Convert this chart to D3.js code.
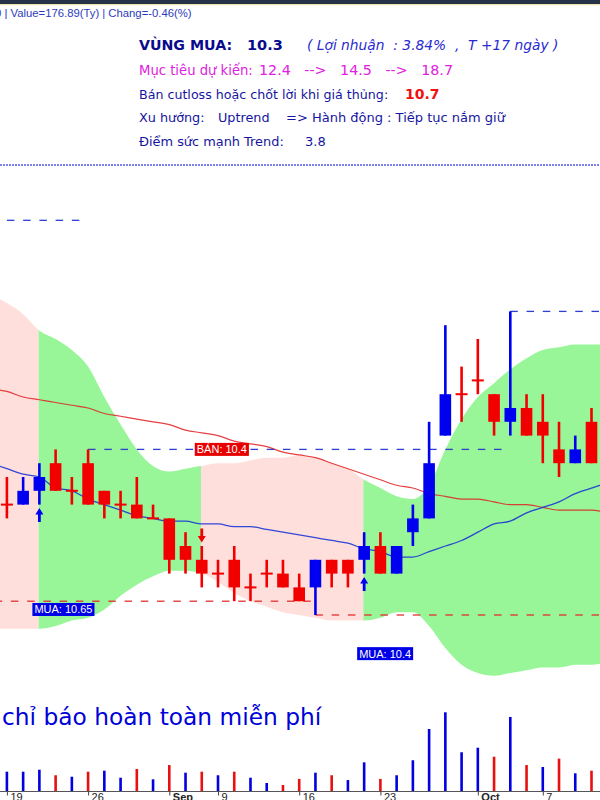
<!DOCTYPE html>
<html><head><meta charset="utf-8">
<script src="https://cdn.jsdelivr.net/npm/d3@7/dist/d3.min.js"></script>
<style>body{margin:0;background:#fff;}svg{display:block;}text{white-space:pre;}</style>
</head><body>
<svg id="c" width="600" height="800"></svg>
<script>
// ---------- DATA ----------
const dates = ["08-19","08-20","08-21","08-22","08-23","08-26","08-27","08-28","08-29","08-30",
  "09-04","09-05","09-06","09-09","09-10","09-11","09-12","09-13","09-16","09-17","09-18","09-19","09-20",
  "09-23","09-24","09-25","09-26","09-27","09-30","10-01","10-02","10-03","10-04","10-07","10-08","10-09","10-10"];
const openP  = [10.55,10.55,10.6,10.7,10.6,10.7,10.6,10.55,10.55,10.5,10.5,10.4,10.35,10.3,10.35,10.25,10.3,10.3,10.25,10.25,10.35,10.35,10.35,10.4,10.3,10.45,10.5,10.8,10.95,11.0,10.95,10.85,10.9,10.85,10.75,10.7,10.85];
const highP  = [10.65,10.65,10.7,10.75,10.65,10.75,10.6,10.6,10.65,10.55,10.5,10.45,10.4,10.35,10.4,10.3,10.35,10.35,10.3,10.35,10.35,10.35,10.45,10.45,10.4,10.55,10.85,11.2,11.05,11.15,10.95,11.25,10.95,10.95,10.85,10.8,10.9];
const lowP   = [10.5,10.55,10.55,10.6,10.55,10.55,10.5,10.5,10.5,10.5,10.3,10.3,10.25,10.25,10.2,10.2,10.25,10.25,10.2,10.15,10.25,10.25,10.3,10.3,10.3,10.4,10.5,10.8,10.85,10.95,10.8,10.8,10.8,10.7,10.65,10.7,10.7];
const closeP = [10.55,10.6,10.65,10.6,10.6,10.55,10.55,10.55,10.5,10.5,10.35,10.35,10.3,10.3,10.25,10.25,10.3,10.25,10.2,10.35,10.3,10.3,10.4,10.3,10.4,10.5,10.7,10.95,10.95,11.0,10.85,10.9,10.8,10.8,10.7,10.75,10.7];
// volume, million shares
const volume = [15.7,15.7,17.3,12.8,11.6,15.7,16.5,10.8,17.9,9.5,21.1,14.9,15.7,12.8,15.7,10.8,6.5,4.9,9.8,14.9,12.8,8.9,23.3,9.8,12.8,25.0,50.4,64.0,31.5,35.2,27.9,60.2,21.1,19.5,26.3,14.4,16.5];
// bands & averages: one bar before the first visible bar, then the 37 bars, then one bar after
const bandUpper = [11.31,11.28,11.24,11.18,11.15,11.11,11.05,10.94,10.84,10.75,10.69,10.67,10.68,10.69,10.70,10.70,10.71,10.72,10.72,10.73,10.72,10.70,10.68,10.64,10.61,10.58,10.57,10.62,10.75,10.86,10.94,10.99,11.04,11.08,11.11,11.12,11.13,11.13,11.13];
const bandLower = [10.10,10.10,10.10,10.10,10.11,10.13,10.14,10.17,10.22,10.26,10.29,10.31,10.31,10.30,10.27,10.23,10.20,10.18,10.16,10.15,10.14,10.13,10.13,10.13,10.14,10.16,10.16,10.11,10.03,9.97,9.94,9.93,9.94,9.95,9.96,9.96,9.97,9.97,9.98];
const maFast = [10.70,10.68,10.66,10.65,10.61,10.60,10.57,10.55,10.53,10.51,10.50,10.49,10.49,10.48,10.48,10.47,10.47,10.46,10.45,10.44,10.43,10.42,10.41,10.39,10.38,10.36,10.36,10.38,10.40,10.42,10.45,10.48,10.49,10.52,10.54,10.56,10.59,10.61,10.63];
const maSlow = [10.97,10.96,10.94,10.93,10.92,10.91,10.90,10.88,10.87,10.86,10.85,10.84,10.82,10.81,10.80,10.78,10.77,10.76,10.74,10.73,10.72,10.70,10.68,10.66,10.64,10.62,10.61,10.59,10.58,10.57,10.57,10.56,10.55,10.55,10.54,10.53,10.53,10.53,10.52];
const signals = [
  {i:2,  type:"buy",  label:"MUA: 10.65", at:10.17},
  {i:12, type:"sell", label:"BÁN: 10.4",  at:10.75},
  {i:22, type:"buy",  label:"MUA: 10.4",  at:10.01}
];
const levels = [
  {p:11.58, a:0,  b:4,  kind:"res"},
  {p:10.75, a:5,  b:30, kind:"res"},
  {p:11.25, a:31, b:36, kind:"res"},
  {p:10.2,  a:-1, b:18, kind:"sup"},
  {p:10.15, a:19, b:36, kind:"sup"}
];
const targets = ["12.4","14.5","18.7"];
const tickIdx = [0,5,10,13,18,23,29,33];
const tickLabels = ["19","26","Sep","9","16","23","Oct","7"];

// ---------- CHART ----------
const svg = d3.select("#c");
const RED = "#f20000", BLUE = "#0000f0";
const GREEN_FILL = "#98f598", PINK_FILL = "#ffdfdb";
const x = d3.scaleLinear().domain([0, 36]).range([6.9, 591.5]);
const y = d3.scaleLinear().domain([10, 11.5]).range([656.4, 242.4]);
const yV = d3.scaleLinear().domain([0, 100]).range([791, 668]);

// header strip
svg.append("rect").attr("x",0).attr("y",0).attr("width",600).attr("height",4).attr("fill","#263248");
svg.append("line").attr("x1",0).attr("x2",600).attr("y1",4.6).attr("y2",4.6).attr("stroke","#efe4b0").attr("stroke-width",1.2);
svg.append("text").attr("x",-5).attr("y",17).attr("font-family","Liberation Sans, Arial").attr("font-size",11.3)
  .attr("fill","#2b3bbd").text("0 | Value=176.89(Ty) | Chang=-0.46(%)");

// info block
const F = "DejaVu Sans, Verdana, sans-serif";
function t(xp, yp, str, opts){
  const e = svg.append("text").attr("x",xp).attr("y",yp).attr("font-family",F).attr("font-size",opts.size||12.8)
    .attr("fill",opts.fill).text(str);
  if(opts.bold) e.attr("font-weight","bold");
  if(opts.italic) e.attr("font-style","italic");
  return e;
}
t(139,50,"VÙNG MUA:",{fill:"#0a0a8c",bold:true,size:14.2});
t(247,50,"10.3",{fill:"#0a0a8c",bold:true,size:14.5});
t(307,50,"( Lợi nhuận  : 3.84%  ,  T +17 ngày )",{fill:"#2a2ad0",italic:true,size:13.8});
t(139,75,"Mục tiêu dự kiến:",{fill:"#e020e0",size:13.2});
{
  const toks = [];
  targets.forEach((v,k)=>{ if(k) toks.push("-->"); toks.push(v); });
  const els = toks.map(s=>t(0,75,s,{fill:"#e020e0",size:14.3}));
  const ws = els.map(e=>e.node().getComputedTextLength());
  const x0 = 259, x1 = 453;
  const gap = (x1 - x0 - d3.sum(ws)) / (toks.length - 1);
  let cx = x0;
  els.forEach((e,k)=>{ e.attr("x",cx); cx += ws[k] + gap; });
}
t(139,99,"Bán cutloss hoặc chốt lời khi giá thủng:",{fill:"#1515a0",size:12.65});
t(405,99,"10.7",{fill:"#f01010",bold:true,size:14});
t(139,122,"Xu hướng:",{fill:"#1515a0"});
t(218,122,"Uptrend",{fill:"#1515a0"});
t(286,122,"=> Hành động : Tiếp tục nắm giữ",{fill:"#1515a0",size:13});
t(139,146,"Điểm sức mạnh Trend:",{fill:"#1515a0",size:12.9});
t(305,146,"3.8",{fill:"#1515a0",size:13});

// separator
svg.append("line").attr("x1",0).attr("x2",600).attr("y1",165).attr("y2",165)
  .attr("stroke","#5a5ae6").attr("stroke-width",1.4).attr("stroke-dasharray","2,1");

// band fill, split by trend state
const idxAll = d3.range(-1, 38);
const area = d3.area().x(i=>x(i)).y0(i=>y(bandLower[i+1])).y1(i=>y(bandUpper[i+1])).curve(d3.curveMonotoneX);
const segs = []; let start = -1, state = "sell";
signals.forEach(s=>{ segs.push({a:start,b:s.i,state}); start = s.i; state = s.type; });
segs.push({a:start,b:37,state});
const defs = svg.append("defs");
segs.forEach((s,k)=>{
  const x0 = s.a < 0 ? -20 : x(s.a) - 0.8;
  const x1 = s.b >= 37 ? 620 : x(s.b) - 0.8;
  defs.append("clipPath").attr("id","seg"+k).append("rect").attr("x",x0).attr("y",0).attr("width",x1-x0).attr("height",800);
  svg.append("path").datum(idxAll).attr("d",area).attr("fill", s.state==="buy"?GREEN_FILL:PINK_FILL)
    .attr("clip-path","url(#seg"+k+")");
});

// moving averages
const line = arr => d3.line().x(i=>x(i)).y(i=>y(arr[i+1])).curve(d3.curveMonotoneX)(idxAll);
svg.append("path").attr("d",line(maSlow)).attr("fill","none").attr("stroke","#e02020").attr("stroke-width",1.2).attr("opacity",0.85);
svg.append("path").attr("d",line(maFast)).attr("fill","none").attr("stroke","#1a36d6").attr("stroke-width",1.3).attr("opacity",0.9);

// level dashes
levels.forEach(L=>{
  const off = L.kind==="sup" && L.a < 0 ? 4 : 0;
  const col = L.kind==="res" ? "#2f3fd0" : "#e03030";
  svg.append("g").selectAll("line").data(d3.range(L.a, L.b+1)).join("line")
    .attr("x1",i=>x(i)+off).attr("x2",i=>x(i)+off+7.5)
    .attr("y1",y(L.p)).attr("y2",y(L.p)).attr("stroke",col).attr("stroke-width",1.3);
});

// candles
const bars = d3.range(0, 37);
const cg = svg.append("g");
bars.forEach(i=>{
  const o=openP[i], c=closeP[i], h=highP[i], l=lowP[i];
  const col = c > o ? BLUE : RED;
  cg.append("rect").attr("x",x(i)-1.3).attr("width",2.6).attr("y",y(h)).attr("height",Math.max(1,y(l)-y(h))).attr("fill",col);
  if (o === c) {
    cg.append("rect").attr("x",x(i)-6).attr("width",12).attr("y",y(c)-1).attr("height",2).attr("fill",col);
  } else {
    const top = y(Math.max(o,c)), bot = y(Math.min(o,c));
    cg.append("rect").attr("x",x(i)-5.8).attr("width",11.6).attr("y",top).attr("height",bot-top).attr("fill",col);
  }
});

// signal arrows and labels
signals.forEach(s=>{
  const cx = x(s.i);
  if (s.type==="buy") {
    const ty = y(lowP[s.i]) + 3.5;
    svg.append("path").attr("d",`M${cx},${ty} L${cx+4},${ty+6.5} L${cx+1.4},${ty+6.5} L${cx+1.4},${ty+14} L${cx-1.4},${ty+14} L${cx-1.4},${ty+6.5} L${cx-4},${ty+6.5} Z`).attr("fill",BLUE);
  } else {
    const ty = y(highP[s.i]) - 3.5;
    svg.append("path").attr("d",`M${cx},${ty} L${cx+4},${ty-6.5} L${cx+1.4},${ty-6.5} L${cx+1.4},${ty-14} L${cx-1.4},${ty-14} L${cx-1.4},${ty-6.5} L${cx-4},${ty-6.5} Z`).attr("fill",RED);
  }
  const g = svg.append("g");
  const rect = g.append("rect").attr("fill", s.type==="buy"?"#0000e8":"#e80000");
  const tx = g.append("text").attr("x",cx-5).attr("y",y(s.at)+4).attr("font-family","Liberation Sans, Arial").attr("font-size",11)
    .attr("fill","#fff").text(s.label);
  const w = tx.node().getComputedTextLength();
  rect.attr("x",cx-7).attr("y",y(s.at)-6.5).attr("width",w+4).attr("height",13);
});

// watermark text
svg.append("text").attr("x",2).attr("y",725).attr("font-family",F).attr("font-size",23.3)
  .attr("fill","#0000d8").text("chỉ báo hoàn toàn miễn phí");

// volume
svg.append("g").selectAll("rect").data(bars).join("rect")
  .attr("x",i=>x(i)-1.3).attr("width",2.6)
  .attr("y",i=>yV(volume[i])).attr("height",i=>791-yV(volume[i]))
  .attr("fill",i=> (i===0 || closeP[i] >= closeP[i-1]) ? "#0000e0" : "#e81010");

// x axis
svg.append("line").attr("x1",0).attr("x2",600).attr("y1",791.5).attr("y2",791.5).attr("stroke","#555").attr("stroke-width",1.2);
const ax = svg.append("g").attr("transform","translate(0,791.5)")
  .call(d3.axisBottom(x).tickValues(tickIdx).tickFormat((d,k)=>tickLabels[k]).tickSize(4));
ax.select(".domain").remove();
ax.selectAll(".tick line").attr("stroke","#444");
ax.selectAll(".tick text").attr("text-anchor","start").attr("x",3).attr("y",2)
  .attr("font-family","Liberation Sans, Arial").attr("font-size",11).attr("fill","#222")
  .attr("font-weight",(d,k)=>/[A-Za-z]/.test(tickLabels[k])?"bold":"normal");
</script>
</body></html>
